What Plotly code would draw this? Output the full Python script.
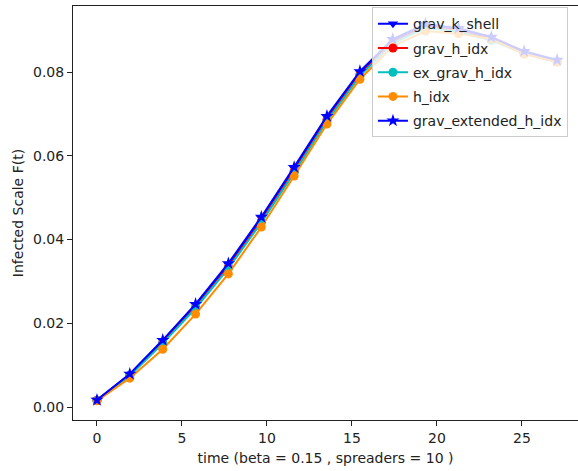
import plotly.graph_objects as go

time = [0.0, 1.93, 3.87, 5.8, 7.73, 9.67, 11.6, 13.53, 15.47, 17.4, 19.33, 21.27, 23.2, 25.13, 27.07]

grav_k_shell = [0.00165, 0.0078, 0.0158, 0.0244, 0.0340, 0.0451, 0.0570, 0.0692, 0.0799, 0.0876, 0.0912, 0.0902, 0.0881, 0.0847, 0.0827]
grav_h_idx = [0.0016, 0.0076, 0.0154, 0.0238, 0.0334, 0.0444, 0.0563, 0.0686, 0.0794, 0.0871, 0.0908, 0.0899, 0.0878, 0.0845, 0.0825]
ex_grav_h_idx = [0.0016, 0.0075, 0.0152, 0.0236, 0.0331, 0.0441, 0.0560, 0.0683, 0.0791, 0.0869, 0.0906, 0.0897, 0.0876, 0.0844, 0.0824]
h_idx = [0.0015, 0.0069, 0.0138, 0.0222, 0.0318, 0.0430, 0.0552, 0.0676, 0.0783, 0.0862, 0.0898, 0.0892, 0.0879, 0.0843, 0.0824]
grav_extended_h_idx = [0.00167, 0.0079, 0.0160, 0.0246, 0.0343, 0.0454, 0.0573, 0.0695, 0.0802, 0.0879, 0.0915, 0.0905, 0.0884, 0.0850, 0.0829]

series = [
    ("grav_k_shell", grav_k_shell, "#0000ff", "triangle-down"),
    ("grav_h_idx", grav_h_idx, "#ff0000", "circle"),
    ("ex_grav_h_idx", ex_grav_h_idx, "#00bfbf", "circle"),
    ("h_idx", h_idx, "#ff8c00", "circle"),
    ("grav_extended_h_idx", grav_extended_h_idx, "#0000ff", "star"),
]

fig = go.Figure()
for name, vals, color, sym in series:
    fig.add_trace(go.Scatter(
        x=time, y=vals, name=name, mode="lines+markers",
        line=dict(color=color, width=2),
        marker=dict(symbol=sym, size=9 if sym != "star" else 10, color=color, line=dict(width=0)),
        legendgroup=name,
    ))

font = dict(family="DejaVu Sans", size=14, color="#222")
fig.update_layout(
    width=578, height=471,
    margin=dict(l=73, r=0, t=6, b=51, autoexpand=False),
    plot_bgcolor="white", paper_bgcolor="white",
    font=font,
    showlegend=True,
    legend=dict(
        x=0.592, y=0.997, xanchor="left", yanchor="top",
        bgcolor="rgba(255,255,255,0.8)", bordercolor="#cccccc", borderwidth=1,
        font=dict(family="DejaVu Sans", size=14, color="#222"),
        tracegroupgap=3, itemwidth=30,
    ),
)
fig.update_xaxes(
    range=[-1.41, 28.3], tickmode="linear", tick0=0, dtick=5,
    showgrid=False, zeroline=False, automargin=False,
    showline=True, linecolor="#222", linewidth=1, mirror=True,
    ticks="outside", ticklen=5, tickwidth=1, tickcolor="#222",
    title=dict(text="time (beta = 0.15 , spreaders = 10 )", font=font, standoff=8),
)
fig.update_yaxes(
    range=[-0.0031, 0.0958], tickmode="linear", tick0=0, dtick=0.02, tickformat=".2f",
    showgrid=False, zeroline=False, automargin=False,
    showline=True, linecolor="#222", linewidth=1,
    ticks="outside", ticklen=5, tickwidth=1, tickcolor="#222",
    title=dict(text="Infected Scale F(t)", font=font, standoff=6),
)
fig.write_html("out.html", config={"displayModeBar": False},
               post_script="document.body.style.margin='0';")
